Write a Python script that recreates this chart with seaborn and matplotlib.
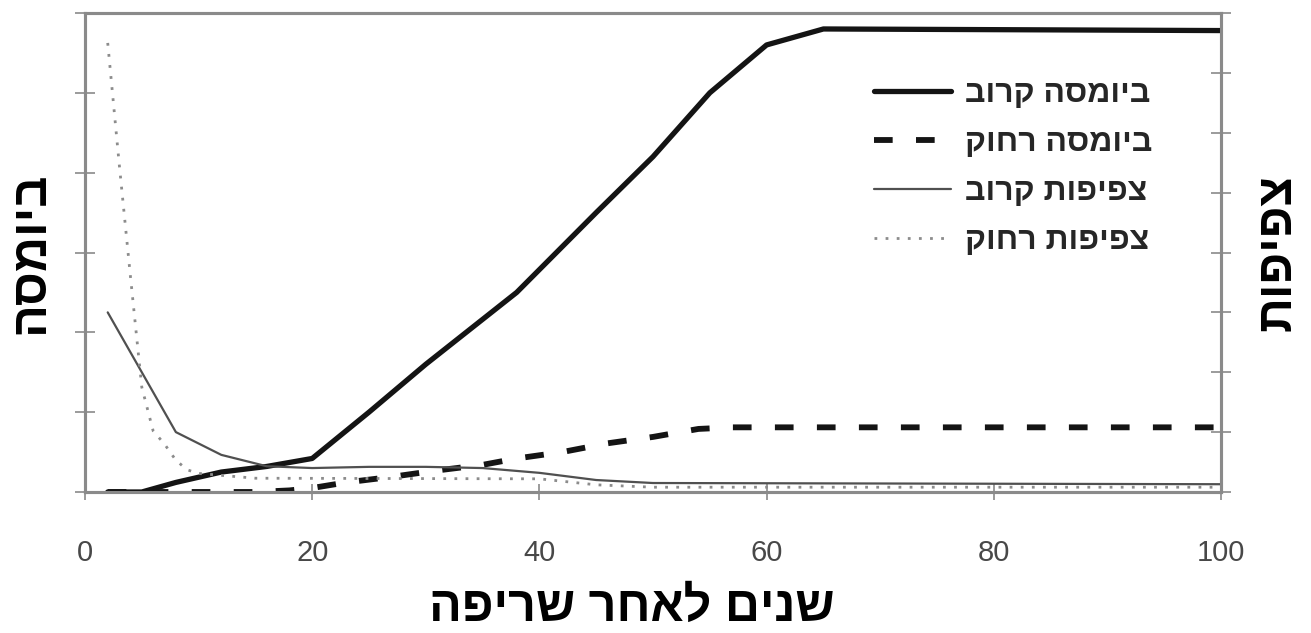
"""
Biomass and density after fire - near vs far
"""

import matplotlib
matplotlib.use('Agg')
import matplotlib.pyplot as plt
import seaborn as sns
import pandas as pd

# Data
years_bio_near = [2, 5, 8, 12, 16, 20, 25, 30, 38, 45, 50, 55, 60, 65, 100]
bio_near = [0.0, 0.0, 0.12, 0.25, 0.32, 0.42, 1.0, 1.6, 2.5, 3.5, 4.2, 5.0, 5.6, 5.8, 5.78]

years_bio_far = [2, 10, 15, 18, 20, 23, 27, 31, 35, 38, 42, 46, 50, 54, 57, 100]
bio_far = [0.0, 0.0, 0.0, 0.02, 0.05, 0.12, 0.19, 0.27, 0.34, 0.42, 0.5, 0.61, 0.69, 0.79, 0.81, 0.81]

years_den_near = [2, 5, 8, 12, 16, 20, 25, 30, 35, 40, 45, 50, 100]
den_near = [3.0, 2.0, 1.0, 0.62, 0.43, 0.40, 0.42, 0.42, 0.40, 0.32, 0.2, 0.15, 0.13]

years_den_far = [2, 3, 4, 5, 6, 7, 8, 9, 10, 15, 40, 45, 50, 100]
den_far = [7.5, 5.5, 3.6, 1.75, 1.02, 0.8, 0.53, 0.37, 0.31, 0.23, 0.22, 0.12, 0.08, 0.08]

x_ticks = [0, 20, 40, 60, 80, 100]

labels = ['ביומסה קרוב', 'ביומסה רחוק', 'צפיפות קרוב', 'צפיפות רחוק']
x_title = 'שנים לאחר שריפה'
y_left_title = 'ביומסה'
y_right_title = 'צפיפות'


def rtl(s):
    # matplotlib has no bidi support - reverse for visual order
    return s[::-1]


sns.set_style("white")
plt.rcParams['font.family'] = ['Liberation Sans', 'DejaVu Sans']

gray = '#8a8a8a'

fig = plt.figure(figsize=(13.11, 6.33), dpi=100)
ax = fig.add_axes([85 / 1311, 1 - 492 / 633, (1221 - 85) / 1311, (492 - 13) / 633])
ax2 = ax.twinx()

df_bn = pd.DataFrame({'x': years_bio_near, 'y': bio_near})
df_bf = pd.DataFrame({'x': years_bio_far, 'y': bio_far})
df_dn = pd.DataFrame({'x': years_den_near, 'y': den_near})
df_df = pd.DataFrame({'x': years_den_far, 'y': den_far})

sns.lineplot(data=df_bn, x='x', y='y', ax=ax, color='#141414', linewidth=3.8,
             label=rtl(labels[0]), zorder=5)
sns.lineplot(data=df_bf, x='x', y='y', ax=ax, color='#141414', linewidth=4.2,
             linestyle=(0, (3.2, 4.0)), label=rtl(labels[1]), zorder=5)
sns.lineplot(data=df_dn, x='x', y='y', ax=ax2, color='#505050', linewidth=1.6,
             label=rtl(labels[2]))
sns.lineplot(data=df_df, x='x', y='y', ax=ax2, color='#8c8c8c', linewidth=2.0,
             linestyle=(0, (1.0, 3.0)), label=rtl(labels[3]))

h1, l1 = ax.get_legend_handles_labels()
h2, l2 = ax2.get_legend_handles_labels()
for a in (ax, ax2):
    if a.get_legend() is not None:
        a.get_legend().remove()

ax.set_xlim(0, 100)
ax.set_ylim(0, 6)
ax2.set_ylim(0, 8)
ax.set_xticks(x_ticks)
ax.set_yticks(range(0, 7))
ax2.set_yticks(range(0, 9))

for a in (ax, ax2):
    for sp in a.spines.values():
        sp.set_color(gray)
        sp.set_linewidth(2.2)
        sp.set_visible(True)

ax.tick_params(axis='x', direction='inout', length=12, width=1.2, color=gray,
               labelsize=21, labelcolor='#484848', pad=28, bottom=True)
ax.tick_params(axis='y', direction='inout', length=14, width=1.2, color=gray,
               left=True, labelleft=False)
ax2.tick_params(axis='y', direction='inout', length=14, width=1.2, color=gray,
                right=True, labelright=False)

ax.set_xlabel(rtl(x_title), fontsize=35, fontweight='bold', color='black')
ax.xaxis.set_label_coords(0.481, -0.195)
ax.set_ylabel(rtl(y_left_title), fontsize=35, fontweight='bold', color='black')
ax.yaxis.set_label_coords(-0.028, 0.5)
ax2.set_ylabel(rtl(y_right_title), fontsize=35, fontweight='bold', color='black',
               rotation=90)
ax2.yaxis.set_label_coords(1.030, 0.5)

ax2.legend(h1 + h2, l1 + l2, loc='upper right', bbox_to_anchor=(1181 / 1311, 1 - 50 / 633),
           bbox_transform=fig.transFigure, frameon=False,
           prop={'size': 23, 'weight': 'bold'}, handlelength=2.4,
           handletextpad=0.45, labelspacing=0.6)

plt.savefig('out.png', dpi=100)
